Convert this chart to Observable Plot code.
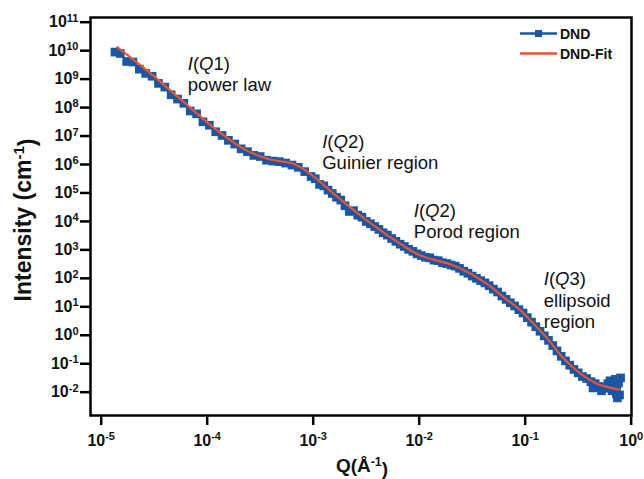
<!DOCTYPE html>
<html><head><meta charset="utf-8">
<script src="https://cdn.jsdelivr.net/npm/d3@7"></script>
<script src="https://cdn.jsdelivr.net/npm/@observablehq/plot@0.6"></script>
<style>body{margin:0;background:#fff} svg{display:block}</style>
</head><body><div id="chart"></div>
<script>
// ---- data (as log10 values) ----
const log10Q_dnd = [-4.87,-4.82,-4.76,-4.70,-4.64,-4.58,-4.52,-4.46,-4.40,-4.34,-4.28,-4.22,-4.16,-4.10,-4.04,-3.98,-3.92,-3.86,-3.80,-3.74,-3.68,-3.62,-3.56,-3.50,-3.44,-3.38,-3.32,-3.26,-3.20,-3.14,-3.08,-3.02,-2.98,-2.94,-2.90,-2.86,-2.82,-2.78,-2.74,-2.70,-2.66,-2.62,-2.58,-2.54,-2.50,-2.46,-2.42,-2.38,-2.34,-2.30,-2.26,-2.22,-2.18,-2.14,-2.10,-2.06,-2.02,-1.98,-1.94,-1.90,-1.86,-1.82,-1.78,-1.74,-1.70,-1.66,-1.62,-1.58,-1.54,-1.50,-1.46,-1.42,-1.38,-1.34,-1.30,-1.26,-1.22,-1.18,-1.14,-1.10,-1.06,-1.02,-0.98,-0.94,-0.90,-0.86,-0.82,-0.78,-0.74,-0.70,-0.66,-0.62,-0.58,-0.54,-0.50,-0.46,-0.42,-0.38,-0.36,-0.34,-0.30,-0.28,-0.26,-0.22,-0.20,-0.18,-0.16,-0.15,-0.14,-0.13,-0.12,-0.11,-0.10];
const log10I_dnd = [9.95,9.90,9.62,9.60,9.35,9.20,9.10,8.85,8.72,8.45,8.30,8.15,7.88,7.78,7.50,7.38,7.15,7.02,6.85,6.72,6.55,6.45,6.32,6.28,6.15,6.12,6.10,6.05,5.98,5.90,5.75,5.58,5.50,5.30,5.25,5.10,4.98,4.85,4.75,4.55,4.35,4.38,4.22,4.15,4.00,3.92,3.82,3.72,3.60,3.52,3.40,3.30,3.20,3.12,3.02,2.95,2.86,2.80,2.74,2.72,2.64,2.62,2.55,2.52,2.47,2.43,2.35,2.25,2.18,2.08,2.00,1.92,1.84,1.74,1.62,1.52,1.38,1.26,1.14,1.03,0.90,0.78,0.62,0.46,0.30,0.14,-0.02,-0.18,-0.36,-0.55,-0.74,-0.90,-1.05,-1.20,-1.32,-1.45,-1.52,-1.63,-1.85,-1.70,-1.80,-1.95,-1.86,-1.70,-1.60,-1.95,-1.72,-1.55,-2.05,-2.20,-1.68,-2.10,-1.50];
const log10Q_fit = [-4.849,-4.535,-4.221,-3.906,-3.655,-3.434,-3.183,-3.026,-2.806,-2.491,-2.176,-1.987,-1.674,-1.358,-1.202,-1.044,-0.950,-0.792,-0.636,-0.478,-0.321,-0.117];
const log10I_fit = [10.12,9.20,8.19,7.20,6.55,6.20,6.02,5.67,4.97,4.03,3.21,2.80,2.45,1.80,1.33,0.875,0.52,-0.11,-0.82,-1.35,-1.70,-1.91];
const seriesNames = ["DND", "DND-Fit"];
const xTickExponents = [-5, -4, -3, -2, -1, 0];
const yTickExponents = [-2, -1, 0, 1, 2, 3, 4, 5, 6, 7, 8, 9, 10, 11];
const annotationTexts = ["I(Q1)\npower law", "I(Q2)\nGuinier region", "I(Q2)\nPorod region", "I(Q3)\nellipsoid\nregion"];
const annotationLog10Q = [-4.183, -2.915, -2.051, -0.825];
const annotationLog10I = [9.865, 7.124, 4.700, 2.286];
const xTitle = "Q(Å";
const yTitle = "Intensity (cm";

// ---- styles ----
const BLUE = "#1a56a4", RED = "#ee5430";
const FONT = "'Liberation Sans', Arial, Helvetica, sans-serif";

const dnd = log10Q_dnd.map((q, i) => ({Q: 10 ** q, I: 10 ** log10I_dnd[i]}));
const fit = log10Q_fit.map((q, i) => ({Q: 10 ** q, I: 10 ** log10I_fit[i]}));
const annots = annotationTexts.map((t, i) => ({text: t, Q: 10 ** annotationLog10Q[i], I: 10 ** annotationLog10I[i]}));
const fmt = d => "10^" + Math.round(Math.log10(d));

const plot = Plot.plot({
  width: 644, height: 479,
  marginLeft: 90, marginRight: 13, marginTop: 17, marginBottom: 64,
  style: {fontFamily: FONT, background: "#fff"},
  x: {type: "log", domain: [10 ** -5.101, 10 ** 0.003]},
  y: {type: "log", domain: [10 ** -2.819, 10 ** 11.165]},
  marks: [
    Plot.axisX({ticks: xTickExponents.map(e => 10 ** e), tickFormat: fmt, tickSize: 10, tickPadding: 9,
      strokeWidth: 2.5, fontSize: 16, fontWeight: "bold", label: null, fill: "#111"}),
    Plot.axisY({ticks: yTickExponents.map(e => 10 ** e), tickFormat: fmt, tickSize: 10, tickPadding: 2,
      strokeWidth: 2.5, fontSize: 16, fontWeight: "bold", label: null, fill: "#111"}),
    Plot.line(dnd, {x: "Q", y: "I", stroke: BLUE, strokeWidth: 2}),
    Plot.dot(dnd, {x: "Q", y: "I", symbol: "square", r: 4.9, fill: BLUE, stroke: "none"}),
    Plot.line(fit, {x: "Q", y: "I", stroke: RED, strokeWidth: 2.2, curve: "catmull-rom"}),
    Plot.text(annots, {x: "Q", y: "I", text: "text", textAnchor: "start", lineAnchor: "top",
      lineHeight: 1.15, fontSize: 18.5, fontWeight: "normal", fill: "#111"}),
    Plot.frame({stroke: "#000", strokeWidth: 2.5})
  ]
});

const svg = d3.select(plot);
// superscripts in tick labels, italics in annotations
svg.selectAll("text, tspan").each(function () {
  if (this.childNodes.length !== 1 || this.firstChild.nodeType !== 3) return;
  const s = this.textContent;
  let m = s.match(/^10\^(-?\d+)$/);
  if (m) {
    this.textContent = "10";
    d3.select(this).style("font-size", "16px").style("font-weight", "bold");
    d3.select(this).append("tspan").attr("dy", "-0.5em").style("font-size", "11px").text(m[1]);
    return;
  }
  m = s.match(/^I\(Q(\d)\)$/);
  if (m) {
    this.textContent = "";
    const t = d3.select(this);
    t.append("tspan").attr("font-style", "italic").text("I");
    t.append("tspan").text("(");
    t.append("tspan").attr("font-style", "italic").text("Q");
    t.append("tspan").text(m[1] + ")");
  }
});

// axis titles
const xt = svg.append("text").attr("x", 362).attr("y", 472).attr("text-anchor", "middle")
  .attr("font-family", FONT).attr("font-weight", "bold").attr("font-size", 19).attr("fill", "#111");
xt.append("tspan").text(xTitle);
xt.append("tspan").attr("dy", "-0.5em").attr("font-size", "0.65em").text("-1");
xt.append("tspan").attr("dy", "0.5em").text(")");

const yt = svg.append("text").attr("transform", "translate(31,220) rotate(-90)").attr("text-anchor", "middle")
  .attr("font-family", FONT).attr("font-weight", "bold").attr("font-size", 23).attr("fill", "#111");
yt.append("tspan").text(yTitle);
yt.append("tspan").attr("dy", "-0.5em").attr("font-size", "0.65em").text("-1");
yt.append("tspan").attr("dy", "0.5em").text(")");

// legend
const lg = svg.append("g").attr("font-family", FONT).attr("font-weight", "bold").attr("font-size", 14)
  .attr("fill", "#111").attr("text-anchor", "start");
[[BLUE, true], [RED, false]].forEach(([c, marker], i) => {
  const y = 33.5 + i * 20;
  lg.append("line").attr("x1", 520).attr("x2", 557).attr("y1", y).attr("y2", y).attr("stroke", c).attr("stroke-width", 2.5);
  if (marker) lg.append("rect").attr("x", 535).attr("y", y - 3.5).attr("width", 7).attr("height", 7).attr("fill", c);
  lg.append("text").attr("x", 560).attr("y", y + 5).attr("text-anchor", "start").text(seriesNames[i]);
});

document.getElementById("chart").appendChild(plot);
</script>
</body></html>
